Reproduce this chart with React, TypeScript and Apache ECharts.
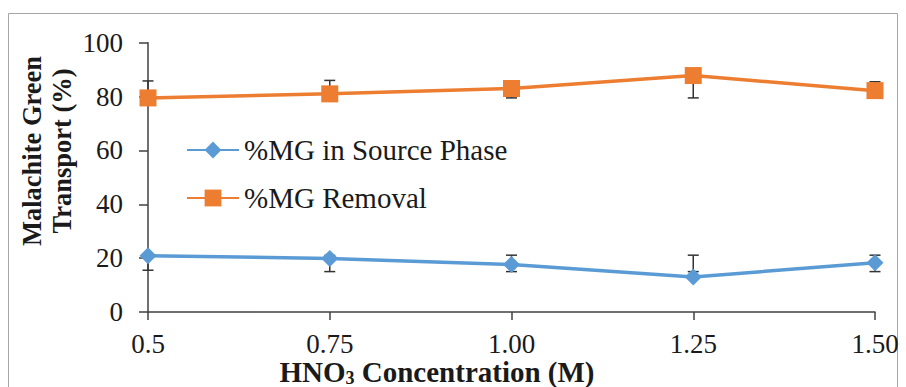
import React, { useEffect, useRef } from "react";
import * as echarts from "echarts";

const categories = ["0.5", "0.75", "1.00", "1.25", "1.50"];
const sourcePhase = [20.9, 19.9, 17.6, 13.0, 18.3];
const removal = [79.5, 81.0, 83.0, 87.8, 82.2];
// error bar ends (equal to value means no visible bar on that side)
const sourceLow = [15.5, 15.0, 15.0, 15.0, 15.0];
const sourceHigh = [20.9, 21.0, 21.1, 21.1, 21.1];
const removalLow = [79.5, 81.0, 79.5, 79.5, 82.2];
const removalHigh = [85.8, 86.0, 83.0, 87.8, 85.5];
const yTicks = { min: 0, max: 100, interval: 20 };

const FONT = "Liberation Serif";
const BLUE = "#5B9BD5";
const ORANGE = "#ED7D31";

function errData(vals: number[], low: number[], high: number[]) {
  return vals.map((v, i) => [i, v, low[i], high[i]]);
}

function renderErr(params: any, api: any) {
  const x = api.value(0);
  const v = api.value(1);
  const lo = api.value(2);
  const hi = api.value(3);
  const pLo = api.coord([x, lo]);
  const pHi = api.coord([x, hi]);
  const pV = api.coord([x, v]);
  const half = 5.5;
  const style = { stroke: "#333333", lineWidth: 1.5, fill: "none" };
  const children: any[] = [
    { type: "line", shape: { x1: pLo[0], y1: pLo[1], x2: pHi[0], y2: pHi[1] }, style },
  ];
  if (Math.abs(pLo[1] - pV[1]) > 0.5)
    children.push({ type: "line", shape: { x1: pLo[0] - half, y1: pLo[1], x2: pLo[0] + half, y2: pLo[1] }, style });
  if (Math.abs(pHi[1] - pV[1]) > 0.5)
    children.push({ type: "line", shape: { x1: pHi[0] - half, y1: pHi[1], x2: pHi[0] + half, y2: pHi[1] }, style });
  return { type: "group", children };
}

export default function App() {
  const ref = useRef<HTMLDivElement>(null);
  useEffect(() => {
    if (!ref.current) return;
    const chart = echarts.init(ref.current, null, { renderer: "svg" });
    chart.setOption({
      animation: false,
      backgroundColor: "#ffffff",
      textStyle: { fontFamily: FONT },
      grid: { left: 148, right: 31, top: 42.7, bottom: 75 },
      xAxis: {
        type: "category",
        data: categories,
        boundaryGap: false,
        axisLine: { lineStyle: { color: "#404040", width: 1.5 } },
        axisTick: { show: true, length: 8, lineStyle: { color: "#404040", width: 1.5 } },
        axisLabel: { margin: 18, fontFamily: FONT, fontSize: 27, lineHeight: 27, color: "#1a1a1a" },
        splitLine: { show: false },
      },
      yAxis: {
        type: "value",
        min: yTicks.min,
        max: yTicks.max,
        interval: yTicks.interval,
        axisLine: { show: true, lineStyle: { color: "#404040", width: 1.5 } },
        axisTick: { show: true, length: 9, lineStyle: { color: "#404040", width: 1.5 } },
        axisLabel: { margin: 25, fontFamily: FONT, fontSize: 27, color: "#1a1a1a" },
        splitLine: { show: false },
      },
      legend: {
        orient: "vertical",
        left: 186,
        top: 134,
        padding: 0,
        itemWidth: 52,
        itemHeight: 21,
        itemGap: 16,
        data: ["%MG in Source Phase", "%MG Removal"],
        textStyle: { fontFamily: FONT, fontSize: 29, lineHeight: 32, color: "#1a1a1a" },
      },
      series: [
        {
          type: "custom",
          name: "errSource",
          renderItem: renderErr,
          data: errData(sourcePhase, sourceLow, sourceHigh),
          z: 1,
          silent: true,
        },
        {
          type: "custom",
          name: "errRemoval",
          renderItem: renderErr,
          data: errData(removal, removalLow, removalHigh),
          z: 1,
          silent: true,
        },
        {
          name: "%MG in Source Phase",
          type: "line",
          data: sourcePhase,
          symbol: "diamond",
          symbolSize: 17,
          lineStyle: { color: BLUE, width: 3.5 },
          itemStyle: { color: BLUE },
          z: 3,
        },
        {
          name: "%MG Removal",
          type: "line",
          data: removal,
          symbol: "rect",
          symbolSize: 17,
          lineStyle: { color: ORANGE, width: 3.5 },
          itemStyle: { color: ORANGE },
          z: 3,
        },
      ],
      graphic: [
        {
          type: "rect",
          shape: { x: 8.5, y: 13.5, width: 889, height: 400 },
          style: { stroke: "#a6a6a6", lineWidth: 1, fill: "none" },
          z: -10,
          silent: true,
        },
        {
          type: "text",
          x: 47,
          y: 151,
          rotation: Math.PI / 2,
          style: {
            text: "Malachite Green\nTransport (%)",
            fontFamily: FONT,
            fontWeight: "bold",
            fontSize: 26.5,
            lineHeight: 30,
            fill: "#1a1a1a",
            align: "center",
            verticalAlign: "middle",
          },
        },
        {
          type: "text",
          x: 437,
          y: 372,
          style: {
            text: "{a|HNO}{b|3}{a| Concentration (M)}",
            align: "center",
            verticalAlign: "middle",
            rich: {
              a: { fontFamily: FONT, fontWeight: "bold", fontSize: 29, fill: "#1a1a1a", lineHeight: 26 },
              b: { fontFamily: FONT, fontWeight: "bold", fontSize: 18, fill: "#1a1a1a", lineHeight: 14, padding: [12, 0, 0, 0] },
            },
          },
        },
      ],
    });
    return () => chart.dispose();
  }, []);
  return (
    <div
      ref={ref}
      style={{ position: "fixed", left: 0, top: 0, width: 906, height: 387 }}
    />
  );
}
